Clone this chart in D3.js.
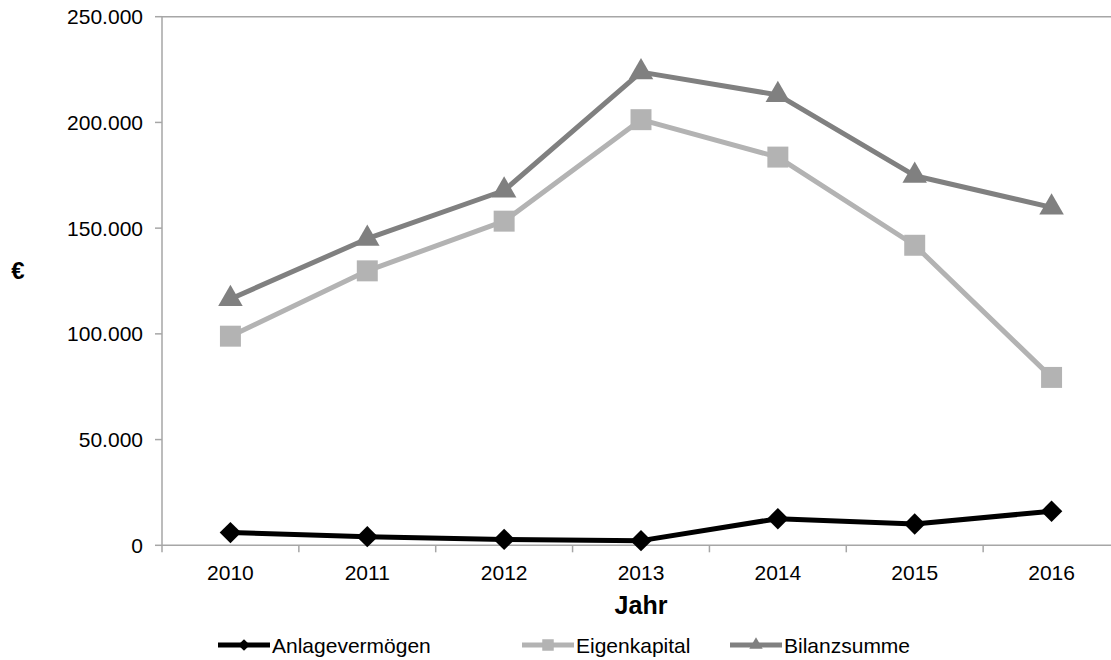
<!DOCTYPE html>
<html>
<head>
<meta charset="utf-8">
<script src="https://cdn.jsdelivr.net/npm/d3@7"></script>
<style>
  body { margin: 0; background: #fff; }
  text { font-family: "Liberation Sans", Arial, sans-serif; fill: #000; }
</style>
</head>
<body>
<script>
const years = ['2010', '2011', '2012', '2013', '2014', '2015', '2016'];
const anlagevermoegen = [6000, 4100, 2800, 2200, 12600, 10100, 16100];
const eigenkapital = [98900, 129800, 153300, 201300, 183600, 141900, 79400];
const bilanzsumme = [116500, 145000, 167800, 223800, 213000, 174800, 159800];
const yTicks = [0, 50000, 100000, 150000, 200000, 250000];

const WIDTH = 1111;
const HEIGHT = 660;

const svg = d3.select('body').append('svg')
    .attr('width', WIDTH)
    .attr('height', HEIGHT);

// plot area is wider than the picture, right edge gets cut off
const x = d3.scaleBand().domain(years).range([162, 1120]);
const y = d3.scaleLinear().domain([0, 250000]).range([545.3, 16.7]);

const de = d3.formatLocale({ decimal: ',', thousands: '.', grouping: [3], currency: ['', ' €'] });
const fmt = de.format(',');

const axisColor = '#a6a6a6';

// top border of plot area
svg.append('line')
    .attr('x1', x.range()[0]).attr('x2', x.range()[1])
    .attr('y1', y(250000)).attr('y2', y(250000))
    .attr('stroke', axisColor).attr('stroke-width', 1.5);

// y axis
svg.append('line')
    .attr('x1', x.range()[0]).attr('x2', x.range()[0])
    .attr('y1', y(0)).attr('y2', y(250000))
    .attr('stroke', axisColor).attr('stroke-width', 1.5);

svg.selectAll('.ytick')
    .data(yTicks)
    .enter()
    .append('line')
    .attr('x1', x.range()[0] - 7).attr('x2', x.range()[0])
    .attr('y1', d => y(d)).attr('y2', d => y(d))
    .attr('stroke', axisColor).attr('stroke-width', 1.5);

svg.selectAll('.ylabel')
    .data(yTicks)
    .enter()
    .append('text')
    .attr('x', 143)
    .attr('y', d => y(d))
    .attr('dy', '0.36em')
    .attr('text-anchor', 'end')
    .attr('font-size', 21)
    .text(d => fmt(d));

// x axis
svg.append('line')
    .attr('x1', x.range()[0]).attr('x2', x.range()[1])
    .attr('y1', y(0)).attr('y2', y(0))
    .attr('stroke', axisColor).attr('stroke-width', 1.5);

const bounds = years.map(d => x(d)).concat([x.range()[1]]);
svg.selectAll('.xtick')
    .data(bounds)
    .enter()
    .append('line')
    .attr('x1', d => d).attr('x2', d => d)
    .attr('y1', y(0)).attr('y2', y(0) + 7)
    .attr('stroke', axisColor).attr('stroke-width', 1.5);

svg.selectAll('.xlabel')
    .data(years)
    .enter()
    .append('text')
    .attr('x', d => x(d) + x.bandwidth() / 2)
    .attr('y', 580)
    .attr('text-anchor', 'middle')
    .attr('font-size', 21)
    .text(d => d);

// axis titles
svg.append('text')
    .attr('x', 641).attr('y', 614)
    .attr('text-anchor', 'middle')
    .attr('font-size', 25).attr('font-weight', 'bold')
    .text('Jahr');

svg.append('text')
    .attr('x', 18).attr('y', 270)
    .attr('dy', '0.36em')
    .attr('text-anchor', 'middle')
    .attr('font-size', 24).attr('font-weight', 'bold')
    .text('€');

// diamonds are squares turned by 45 degrees
const series = [
    { name: 'Anlagevermögen', values: anlagevermoegen, color: '#000000', symbol: d3.symbolSquare, size: 230, rotate: 45 },
    { name: 'Eigenkapital', values: eigenkapital, color: '#b3b3b3', symbol: d3.symbolSquare, size: 440, rotate: 0 },
    { name: 'Bilanzsumme', values: bilanzsumme, color: '#808080', symbol: d3.symbolTriangle, size: 260, rotate: 0 }
];

const line = d3.line()
    .x((d, i) => x(years[i]) + x.bandwidth() / 2)
    .y(d => y(d));

// draw back to front: Bilanzsumme, Eigenkapital, Anlagevermögen
series.slice().reverse().forEach(s => {
    svg.append('path')
        .attr('d', line(s.values))
        .attr('fill', 'none')
        .attr('stroke', s.color)
        .attr('stroke-width', 5)
        .attr('stroke-linejoin', 'round');

    svg.selectAll(null)
        .data(s.values)
        .enter()
        .append('path')
        .attr('d', d3.symbol().type(s.symbol).size(s.size))
        .attr('transform', (d, i) => `translate(${x(years[i]) + x.bandwidth() / 2},${y(d)}) rotate(${s.rotate})`)
        .attr('fill', s.color);
});

// legend
const legendX = [218, 522, 730];
const legend = svg.selectAll('.legend')
    .data(series)
    .enter()
    .append('g')
    .attr('transform', (d, i) => `translate(${legendX[i]},645)`);

legend.append('line')
    .attr('x1', 0).attr('x2', 52)
    .attr('stroke', d => d.color)
    .attr('stroke-width', 5);

legend.append('path')
    .attr('d', d => d3.symbol().type(d.symbol).size(d.size * 0.3)())
    .attr('transform', d => `translate(26,0) rotate(${d.rotate})`)
    .attr('fill', d => d.color);

legend.append('text')
    .attr('x', 54)
    .attr('dy', '0.36em')
    .attr('font-size', 21)
    .text(d => d.name);
</script>
</body>
</html>
